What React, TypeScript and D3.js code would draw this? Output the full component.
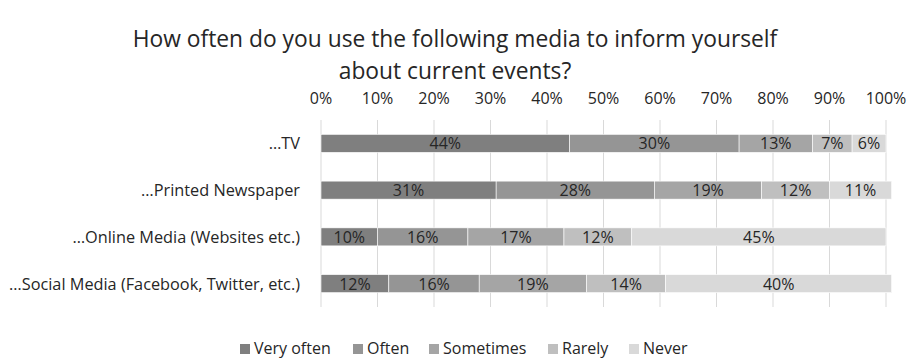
import React from "react";
import * as d3 from "d3";

const categories = [
  "…TV",
  "…Printed Newspaper",
  "…Online Media (Websites etc.)",
  "…Social Media (Facebook, Twitter, etc.)",
];
const seriesNames = ["Very often", "Often", "Sometimes", "Rarely", "Never"];
const veryOften = [44, 31, 10, 12];
const often = [30, 28, 16, 16];
const sometimes = [13, 19, 17, 19];
const rarely = [7, 12, 12, 14];
const never = [6, 11, 45, 40];
const tickValues = [0, 10, 20, 30, 40, 50, 60, 70, 80, 90, 100];
const colors = ["#7f7f7f", "#959595", "#a5a5a5", "#bfbfbf", "#d9d9d9"];

const W = 912;
const H = 359;
const FONT = "'Open Sans', sans-serif";
const FS = 16;

export default function App() {
  const series = [veryOften, often, sometimes, rarely, never];
  const x = d3.scaleLinear().domain([0, 100]).range([321, 886]);
  const y = d3.scaleBand<string>().domain(categories).range([120, 307]).paddingInner(0.615).paddingOuter(0.3075);
  const rows = categories.map((c, i) => {
    let acc = 0;
    return series.map((s, j) => {
      const x0 = acc;
      acc += s[i];
      return { cat: c, j, x0, x1: acc, v: s[i] };
    });
  });
  const legendX = [240, 353, 429, 548, 629];
  return (
    <svg width={W} height={H} style={{ position: "absolute", left: 0, top: 0, background: "#fff" }} fontFamily={FONT}>
      <text x={455} y={47} textAnchor="middle" fontSize={22.8} fill="#262626">
        How often do you use the following media to inform yourself
      </text>
      <text x={455} y={78.5} textAnchor="middle" fontSize={22.8} fill="#262626">
        about current events?
      </text>
      {tickValues.map((t) => (
        <g key={t}>
          <line x1={x(t)} x2={x(t)} y1={120} y2={307} stroke="#d9d9d9" strokeWidth={1} />
          <text x={x(t)} y={104} textAnchor="middle" fontSize={FS} fill="#262626">
            {t}%
          </text>
        </g>
      ))}
      {categories.map((c) => (
        <text key={c} x={300} y={y(c)! + y.bandwidth() / 2 + 6} textAnchor="end" fontSize={16.3} fill="#262626">
          {c}
        </text>
      ))}
      {rows.map((segs) =>
        segs.map((s) => (
          <g key={s.cat + s.j}>
            <rect
              x={x(s.x0)}
              y={y(s.cat)}
              width={x(s.x1) - x(s.x0)}
              height={y.bandwidth()}
              fill={colors[s.j]}
              stroke="#ffffff"
              strokeWidth={0.6}
            />
            <text
              x={(x(s.x0) + x(s.x1)) / 2}
              y={y(s.cat)! + y.bandwidth() / 2 + 6}
              textAnchor="middle"
              fontSize={FS}
              fill="#262626"
            >
              {s.v}%
            </text>
          </g>
        ))
      )}
      {seriesNames.map((n, i) => (
        <g key={n}>
          <rect x={legendX[i]} y={344} width={10} height={10} fill={colors[i]} />
          <text x={legendX[i] + 14} y={354} fontSize={FS} fill="#262626">
            {n}
          </text>
        </g>
      ))}
    </svg>
  );
}
